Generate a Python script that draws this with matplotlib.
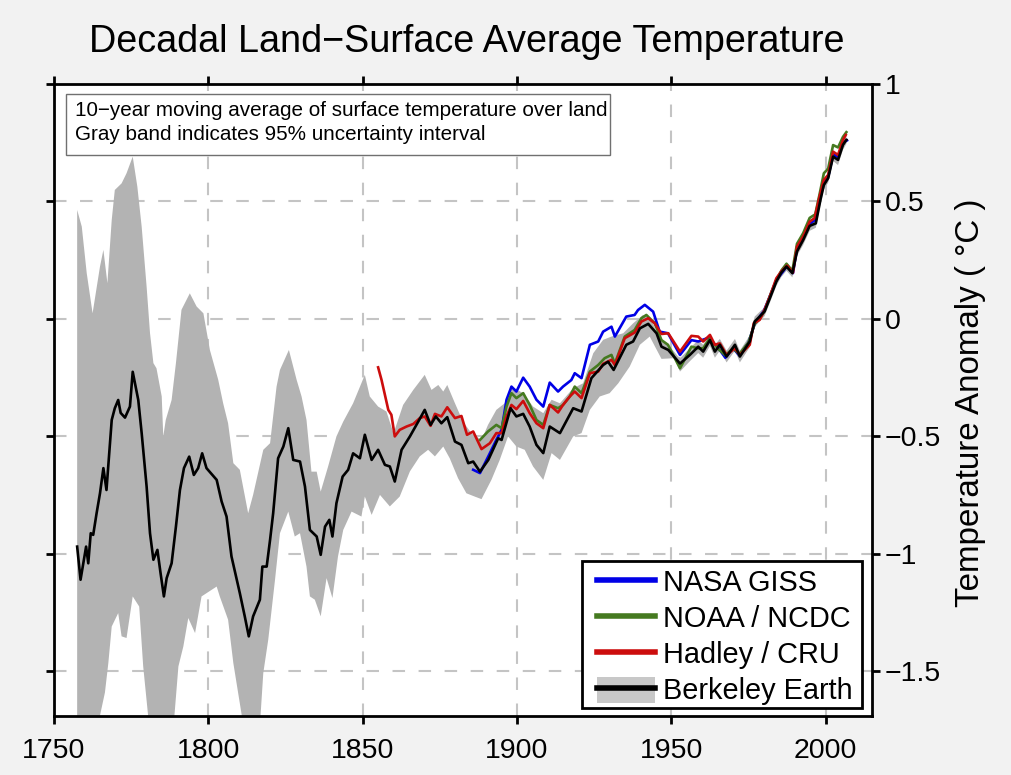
import numpy as np
import matplotlib
matplotlib.use('Agg')
import matplotlib.pyplot as plt
from matplotlib.lines import Line2D
from matplotlib.patches import Patch, Rectangle
from matplotlib.legend_handler import HandlerTuple

plt.rcParams['font.family'] = ['Liberation Sans', 'DejaVu Sans']

# Berkeley Earth
berkeley_years = [1757.5, 1758.6, 1759.5, 1760.4, 1761.1, 1761.9, 1762.7, 1763.8, 1764.9, 1766.0, 1767.0, 1768.7, 1769.7, 1770.8, 1771.6, 1773.0, 1774.6, 1775.5,
                  1777.3, 1778.4, 1780.0, 1781.1, 1782.2, 1783.5, 1784.5, 1785.6, 1786.5, 1788.1, 1789.5, 1790.8, 1792.1, 1793.8, 1795.3, 1796.7, 1798.0, 1799.4,
                  1802.7, 1804.3, 1805.9, 1807.5, 1808.6, 1810.2, 1811.8, 1813.1, 1814.5, 1816.7, 1817.5, 1818.9, 1820.0, 1821.0, 1822.6, 1824.3, 1825.9, 1827.5,
                  1829.7, 1831.3, 1832.9, 1834.0, 1835.1, 1836.4, 1837.8, 1839.2, 1840.2, 1841.5, 1843.5, 1845.3, 1846.9, 1849.1, 1850.7, 1852.9, 1855.0, 1857.2,
                  1858.8, 1860.4, 1862.6, 1865.3, 1868.0, 1870.1, 1872.0, 1873.7, 1875.5, 1877.4, 1879.9, 1882.0, 1884.2, 1885.8, 1888.0, 1890.7, 1893.9, 1895.0,
                  1897.9, 1899.8, 1902.0, 1904.1, 1906.3, 1908.5, 1910.6, 1913.9, 1918.2, 1920.9, 1924.1, 1927.9, 1929.5, 1931.3, 1935.4, 1937.6, 1939.8, 1942.5,
                  1945.2, 1946.8, 1949.0, 1952.8, 1956.0, 1958.7, 1960.3, 1962.5, 1964.1, 1965.7, 1967.9, 1970.6, 1972.2, 1975.4, 1977.0,
                  1978.6, 1980.2, 1981.9, 1984.0, 1985.6, 1987.3, 1989.2, 1990.7, 1992.7, 1994.8, 1996.8, 1998.3, 1999.4, 2000.8, 2002.4, 2004.0, 2005.6, 2006.7]
berkeley_vals = [-0.969, -1.11, -1.04, -0.969, -1.04, -0.912, -0.919, -0.827, -0.742, -0.635, -0.728, -0.43, -0.38, -0.345, -0.40, -0.42, -0.373, -0.225,
                 -0.345, -0.486, -0.713, -0.912, -1.025, -0.983, -1.08, -1.181, -1.103, -1.04, -0.884, -0.728, -0.635, -0.586, -0.664, -0.635, -0.572, -0.635,
                 -0.685, -0.777, -0.841, -1.011, -1.075, -1.167, -1.266, -1.351, -1.266, -1.195, -1.054, -1.054, -0.94, -0.827, -0.593, -0.543, -0.465, -0.60,
                 -0.607, -0.713, -0.898, -0.912, -0.926, -1.004, -0.884, -0.855, -0.926, -0.784, -0.671, -0.642, -0.572, -0.593, -0.493, -0.60, -0.557, -0.621,
                 -0.628, -0.692, -0.557, -0.50, -0.437, -0.387, -0.451, -0.415, -0.444, -0.418, -0.522, -0.536, -0.614, -0.607, -0.65, -0.60, -0.508, -0.515,
                 -0.38, -0.415, -0.404, -0.458, -0.536, -0.571, -0.458, -0.486, -0.38, -0.394, -0.252, -0.196, -0.182, -0.217, -0.11, -0.096, -0.04, -0.021,
                 -0.061, -0.118, -0.132, -0.19, -0.153, -0.118, -0.139, -0.09, -0.139, -0.11, -0.16, -0.11, -0.16, -0.096, -0.011,
                 0.01, 0.032, 0.088, 0.159, 0.197, 0.223, 0.195, 0.287, 0.336, 0.396, 0.407, 0.507, 0.57, 0.599, 0.691, 0.677, 0.741, 0.762]

# 95% band, upper edge
upper_years = [1757.5, 1759.0, 1760.6, 1762.5, 1764.9, 1766.0, 1767.3, 1768.7, 1769.7, 1771.9, 1773.5, 1775.5, 1777.0, 1778.4, 1780.0, 1781.1, 1782.2, 1783.2, 1784.9,
               1785.4, 1786.2, 1788.1, 1789.5, 1791.3, 1794.0, 1796.2, 1798.4, 1800.5, 1803.2, 1804.8, 1806.4, 1808.1, 1810.2, 1812.9, 1814.5, 1817.8, 1820.0, 1822.1,
               1823.2, 1826.1, 1828.6, 1830.2, 1831.8, 1833.4, 1835.1, 1836.4, 1838.8, 1841.5, 1843.7, 1846.9, 1850.7, 1852.3, 1855.0, 1857.7, 1860.0, 1863.1, 1866.4,
               1870.1, 1872.3, 1874.5, 1876.1, 1877.4, 1879.9, 1882.5, 1885.2, 1888.5, 1890.6, 1893.3, 1896.0, 1898.2, 1902.0, 1905.2, 1908.5, 1911.2, 1913.9, 1918.2,
               1921.4, 1924.7, 1927.9, 1930.6, 1934.4, 1937.6, 1940.8, 1943.5, 1946.2, 1949.5, 1952.2, 1953.0, 1956.0, 1958.7, 1960.3, 1962.5, 1964.1, 1965.7, 1967.9,
               1970.6, 1972.2, 1975.4, 1977.0, 1978.6, 1980.2, 1981.9, 1984.0, 1985.6, 1987.3, 1989.2, 1990.7, 1992.7, 1994.8, 1996.8, 1998.3, 1999.4, 2000.8, 2002.4,
               2004.0, 2005.6, 2006.7]
upper_vals = [0.464, 0.393, 0.195, 0.024, 0.223, 0.294, 0.152, 0.421, 0.549, 0.577, 0.62, 0.691, 0.563, 0.393, 0.138, -0.06, -0.188, -0.21, -0.33,
              -0.50, -0.43, -0.345, -0.188, 0.039, 0.109, 0.053, 0.024, -0.132, -0.259, -0.359, -0.444, -0.614, -0.642, -0.827, -0.749, -0.557, -0.529, -0.288,
              -0.217, -0.132, -0.259, -0.33, -0.43, -0.65, -0.65, -0.735, -0.628, -0.50, -0.437, -0.359, -0.238, -0.33, -0.373, -0.394, -0.487, -0.366, -0.302,
              -0.238, -0.302, -0.281, -0.309, -0.281, -0.359, -0.437, -0.486, -0.515, -0.451, -0.387, -0.359, -0.288, -0.316, -0.373, -0.401, -0.344, -0.359, -0.295,
              -0.274, -0.146, -0.089, -0.075, -0.061, -0.019, 0.017, -0.004, -0.082, -0.118, -0.16, -0.165, -0.125, -0.09, -0.11, -0.065, -0.11, -0.085, -0.135,
              -0.085, -0.135, -0.07, 0.01, 0.03, 0.05, 0.105, 0.175, 0.215, 0.24, 0.21, 0.305, 0.355, 0.415, 0.425, 0.525, 0.59, 0.62, 0.71,
              0.70, 0.76, 0.78]

# 95% band, lower edge
lower_years = [1757.5, 1764.7, 1766.5, 1767.6, 1768.7, 1770.8, 1771.9, 1773.5, 1775.5, 1777.6, 1778.9, 1780.5, 1781.0, 1788.5, 1789.0, 1790.3, 1791.9, 1793.5, 1795.7, 1797.8,
               1802.7, 1803.7, 1806.4, 1808.1, 1810.8, 1811.5, 1816.5, 1816.9, 1817.8, 1819.4, 1821.6, 1823.2, 1825.9, 1828.0, 1829.7, 1831.8, 1832.9, 1834.5, 1836.4, 1838.3,
               1840.2, 1842.0, 1843.7, 1846.4, 1849.6, 1850.7, 1852.9, 1855.6, 1858.8, 1862.0, 1865.3, 1868.5, 1871.2, 1873.4, 1876.1, 1878.2, 1880.9, 1883.6, 1886.3, 1888.5,
               1891.7, 1894.4, 1897.1, 1899.8, 1902.5, 1905.2, 1908.5, 1911.2, 1913.9, 1918.2, 1920.9, 1923.6, 1926.8, 1930.0, 1932.8, 1936.5, 1939.8, 1943.0, 1946.8, 1951.0,
               1952.8, 1956.0, 1958.7, 1960.3, 1962.5, 1964.1, 1965.7, 1967.9, 1970.6, 1972.2, 1975.4, 1977.0, 1978.6, 1980.2, 1981.9, 1984.0, 1985.6, 1987.3, 1989.2, 1990.7,
               1992.7, 1994.8, 1996.8, 1998.3, 1999.4, 2000.8, 2002.4, 2004.0, 2005.6, 2006.7]
lower_vals = [-2.0, -1.70, -1.59, -1.465, -1.309, -1.252, -1.351, -1.358, -1.181, -1.224, -1.479, -1.69, -2.0, -2.0, -1.69, -1.479, -1.394, -1.273, -1.337, -1.181,
              -1.139, -1.181, -1.28, -1.465, -1.685, -2.0, -2.0, -1.69, -1.507, -1.366, -1.11, -0.912, -0.82, -0.926, -0.912, -1.054, -1.181, -1.195, -1.266, -1.103,
              -1.188, -1.011, -0.898, -0.82, -0.841, -0.756, -0.834, -0.749, -0.798, -0.756, -0.649, -0.585, -0.557, -0.585, -0.543, -0.593, -0.678, -0.742, -0.756, -0.767,
              -0.685, -0.60, -0.50, -0.543, -0.557, -0.628, -0.685, -0.571, -0.60, -0.50, -0.486, -0.387, -0.33, -0.316, -0.274, -0.203, -0.11, -0.075, -0.17, -0.167,
              -0.224, -0.18, -0.145, -0.165, -0.115, -0.165, -0.135, -0.185, -0.135, -0.185, -0.12, -0.035, -0.01, 0.012, 0.068, 0.14, 0.178, 0.205, 0.177, 0.268,
              0.315, 0.375, 0.388, 0.487, 0.55, 0.58, 0.672, 0.655, 0.72, 0.745]

# Hadley / CRU
hadley_years = [1855.0, 1856.1, 1858.3, 1859.3, 1860.4, 1862.0, 1864.2, 1866.4, 1868.5, 1870.1, 1872.0, 1873.4, 1875.5, 1877.4, 1879.9, 1882.0, 1883.8, 1885.8, 1888.5, 1891.2,
                1893.3, 1895.0, 1896.6, 1898.2, 1899.8, 1902.0, 1904.1, 1906.3, 1908.5, 1910.6, 1913.3, 1914.9, 1917.1, 1918.7, 1920.9, 1923.6, 1926.3, 1927.9, 1930.6, 1931.7,
                1934.9, 1938.1, 1940.3, 1942.5, 1944.6, 1946.8, 1949.0, 1952.8, 1956.5, 1958.7, 1960.3, 1962.5, 1964.1, 1965.7, 1967.9, 1970.6, 1972.2, 1975.4, 1976.7, 1978.6, 1980.2,
                1981.9, 1984.0, 1985.6, 1987.5, 1989.4, 1990.7, 1992.7, 1994.8, 1996.4, 1998.0, 1999.4, 2000.8, 2002.4, 2004.0, 2005.6, 2006.5]
hadley_vals = [-0.206, -0.259, -0.387, -0.408, -0.50, -0.472, -0.458, -0.447, -0.422, -0.415, -0.455, -0.404, -0.415, -0.376, -0.422, -0.413, -0.493, -0.479, -0.554, -0.529,
               -0.486, -0.486, -0.415, -0.366, -0.384, -0.349, -0.401, -0.444, -0.465, -0.366, -0.398, -0.366, -0.33, -0.309, -0.337, -0.231, -0.224, -0.191, -0.174, -0.196,
               -0.082, -0.058, -0.011, 0.003, -0.018, -0.064, -0.061, -0.139, -0.072, -0.075, -0.096, -0.068, -0.11, -0.104, -0.153, -0.125, -0.153, -0.11, -0.018, -0.004, 0.039,
               0.095, 0.173, 0.202, 0.227, 0.197, 0.308, 0.351, 0.414, 0.429, 0.521, 0.592, 0.613, 0.712, 0.698, 0.762, 0.783]

# NOAA / NCDC
noaa_years = [1888.0, 1890.6, 1893.3, 1895.0, 1896.6, 1898.2, 1899.8, 1902.0, 1904.1, 1906.3, 1908.5, 1910.6, 1913.3, 1914.9, 1917.1, 1918.7, 1920.9, 1923.6, 1926.3, 1928.4,
              1930.6, 1931.7, 1934.9, 1938.1, 1940.3, 1941.9, 1944.6, 1946.8, 1948.9, 1952.8, 1956.5, 1958.7, 1960.3, 1962.5, 1965.0, 1967.5, 1970.0, 1972.0, 1975.0, 1977.0,
              1978.6, 1980.2, 1982.0, 1984.0, 1985.6, 1987.3, 1989.2, 1990.7, 1992.7, 1994.8, 1996.6, 1998.0, 1999.4, 2000.8, 2002.4, 2004.0, 2005.6, 2006.7]
noaa_vals = [-0.515, -0.479, -0.451, -0.465, -0.373, -0.316, -0.337, -0.316, -0.366, -0.43, -0.451, -0.366, -0.38, -0.366, -0.33, -0.288, -0.316, -0.224, -0.196, -0.167,
             -0.153, -0.19, -0.075, -0.047, 0.003, 0.017, -0.018, -0.09, -0.11, -0.21, -0.118, -0.125, -0.125, -0.082, -0.125, -0.155, -0.125, -0.15, -0.10, -0.02,
             0.0, 0.035, 0.10, 0.165, 0.205, 0.235, 0.205, 0.32, 0.365, 0.43, 0.445, 0.53, 0.62, 0.64, 0.74, 0.73, 0.775, 0.795]

# NASA GISS
giss_years = [1885.8, 1888.0, 1890.7, 1893.3, 1895.0, 1896.6, 1898.2, 1899.8, 1902.0, 1904.1, 1906.3, 1908.5, 1910.6, 1913.3, 1914.9, 1917.6, 1918.7, 1920.9, 1923.6, 1926.3,
              1927.9, 1930.6, 1931.7, 1935.4, 1938.1, 1939.2, 1941.4, 1944.1, 1946.2, 1948.9, 1952.8, 1956.5, 1958.7, 1962.0, 1965.0, 1967.5, 1970.0, 1972.0, 1975.0,
              1977.0, 1980.0, 1984.0, 1987.5, 1989.4, 1990.7, 1992.7, 1994.8, 1996.4, 1998.0, 1999.4, 2000.8, 2002.4, 2004.0, 2005.6, 2006.9]
giss_vals = [-0.642, -0.656, -0.585, -0.515, -0.472, -0.344, -0.288, -0.309, -0.25, -0.288, -0.344, -0.373, -0.271, -0.309, -0.288, -0.26, -0.231, -0.252, -0.11, -0.096,
             -0.054, -0.033, -0.075, 0.01, 0.017, 0.038, 0.06, 0.031, -0.054, -0.061, -0.153, -0.09, -0.096, -0.08, -0.12, -0.165, -0.125, -0.155, -0.10,
             -0.02, 0.035, 0.165, 0.225, 0.195, 0.30, 0.345, 0.405, 0.42, 0.51, 0.585, 0.605, 0.70, 0.69, 0.75, 0.76]

x_ticks = [1750, 1800, 1850, 1900, 1950, 2000]
y_ticks = [1, 0.5, 0, -0.5, -1, -1.5]
y_labels = ['1', '0.5', '0', '\u22120.5', '\u22121', '\u22121.5']
x_grid = [1800, 1850, 1900, 1950, 2000]
y_grid = [0.5, 0, -0.5, -1, -1.5]

W, H = 1011, 775
fig = plt.figure(figsize=(W / 100, H / 100), dpi=100, facecolor='#f2f2f2')
ax = fig.add_axes([54 / W, 1 - 716 / H, (872 - 54) / W, (716 - 84) / H])
ax.set_xlim(1750, 2015)
ax.set_ylim(-1.69, 1)

# siatka
for v in x_grid:
    ax.axvline(v, color='#c4c4c4', lw=1.5, dashes=(6, 6.5), zorder=1)
for v in y_grid:
    ax.axhline(v, color='#c4c4c4', lw=1.5, dashes=(6, 6.5), zorder=1)

# pasmo niepewnosci
band_x = np.r_[upper_years, lower_years[::-1]]
band_y = np.r_[upper_vals, lower_vals[::-1]]
ax.fill(band_x, band_y, color='#b3b3b3', lw=0, zorder=2)

ax.plot(giss_years, giss_vals, color='#0000e6', lw=1.9, zorder=3)
ax.plot(noaa_years, noaa_vals, color='#457a20', lw=1.9, zorder=4)
ax.plot(hadley_years, hadley_vals, color='#cc0d0d', lw=1.9, zorder=5)
ax.plot(berkeley_years, berkeley_vals, color='black', lw=1.9, zorder=6)

for s in ax.spines.values():
    s.set_linewidth(2)
    s.set_zorder(10)

ax.set_xticks(x_ticks)
ax.set_yticks(y_ticks)
ax.set_yticklabels(y_labels)
ax.tick_params(axis='x', which='both', direction='out', length=6, width=2, top=True, bottom=True, labelsize=20.5, pad=10)
ax.tick_params(axis='y', which='both', direction='out', length=6, width=2, left=True, right=True, labelleft=False, labelright=True, labelsize=20.5, pad=3)

fig.text(467 / W, 1 - 42 / H, 'Decadal Land\u2212Surface Average Temperature', fontsize=27.2, ha='center', va='center')
fig.text(971 / W, 1 - 403 / H, 'Temperature Anomaly ( \u00b0C )', fontsize=23.9, rotation=90, ha='center', va='center')

# ramka z opisem
ax.add_patch(Rectangle((66 / W, 1 - 155 / H), (610 - 66) / W, (155 - 94) / H, transform=fig.transFigure, facecolor='white',
                       edgecolor='#707070', lw=1, zorder=8))
ax.text(75 / W, 1 - 110 / H, '10\u2212year moving average of surface temperature over land', transform=fig.transFigure,
        fontsize=14.9, va='center', zorder=9)
ax.text(75 / W, 1 - 135 / H, 'Gray band indicates 95% uncertainty interval', transform=fig.transFigure,
        fontsize=14.9, va='center', zorder=9)

# legenda - ramka osobno, bo odstepy gora/dol sa rozne
ax.add_patch(Rectangle((582 / W, 1 - 708 / H), (862 - 582) / W, (708 - 561) / H, transform=fig.transFigure, facecolor='white',
                       edgecolor='black', lw=2, zorder=8.5))
handles = [Line2D([], [], color='#0000e6', lw=4),
           Line2D([], [], color='#457a20', lw=4),
           Line2D([], [], color='#cc0d0d', lw=4),
           (Patch(facecolor='#c8c8c8', edgecolor='none'), Line2D([], [], color='black', lw=4))]
labels = ['NASA GISS', 'NOAA / NCDC', 'Hadley / CRU', 'Berkeley Earth']
leg = ax.legend(handles, labels, loc='lower right', bbox_to_anchor=(862 / W, 1 - 715 / H), bbox_transform=fig.transFigure,
                fontsize=20.8, frameon=False, borderaxespad=0,
                handlelength=2.0, handleheight=1.0, handletextpad=0.28, labelspacing=0.25, borderpad=0.33,
                handler_map={tuple: HandlerTuple(ndivide=1, pad=0)})
leg.set_zorder(9)

fig.savefig('out.png', dpi=100, facecolor=fig.get_facecolor())
